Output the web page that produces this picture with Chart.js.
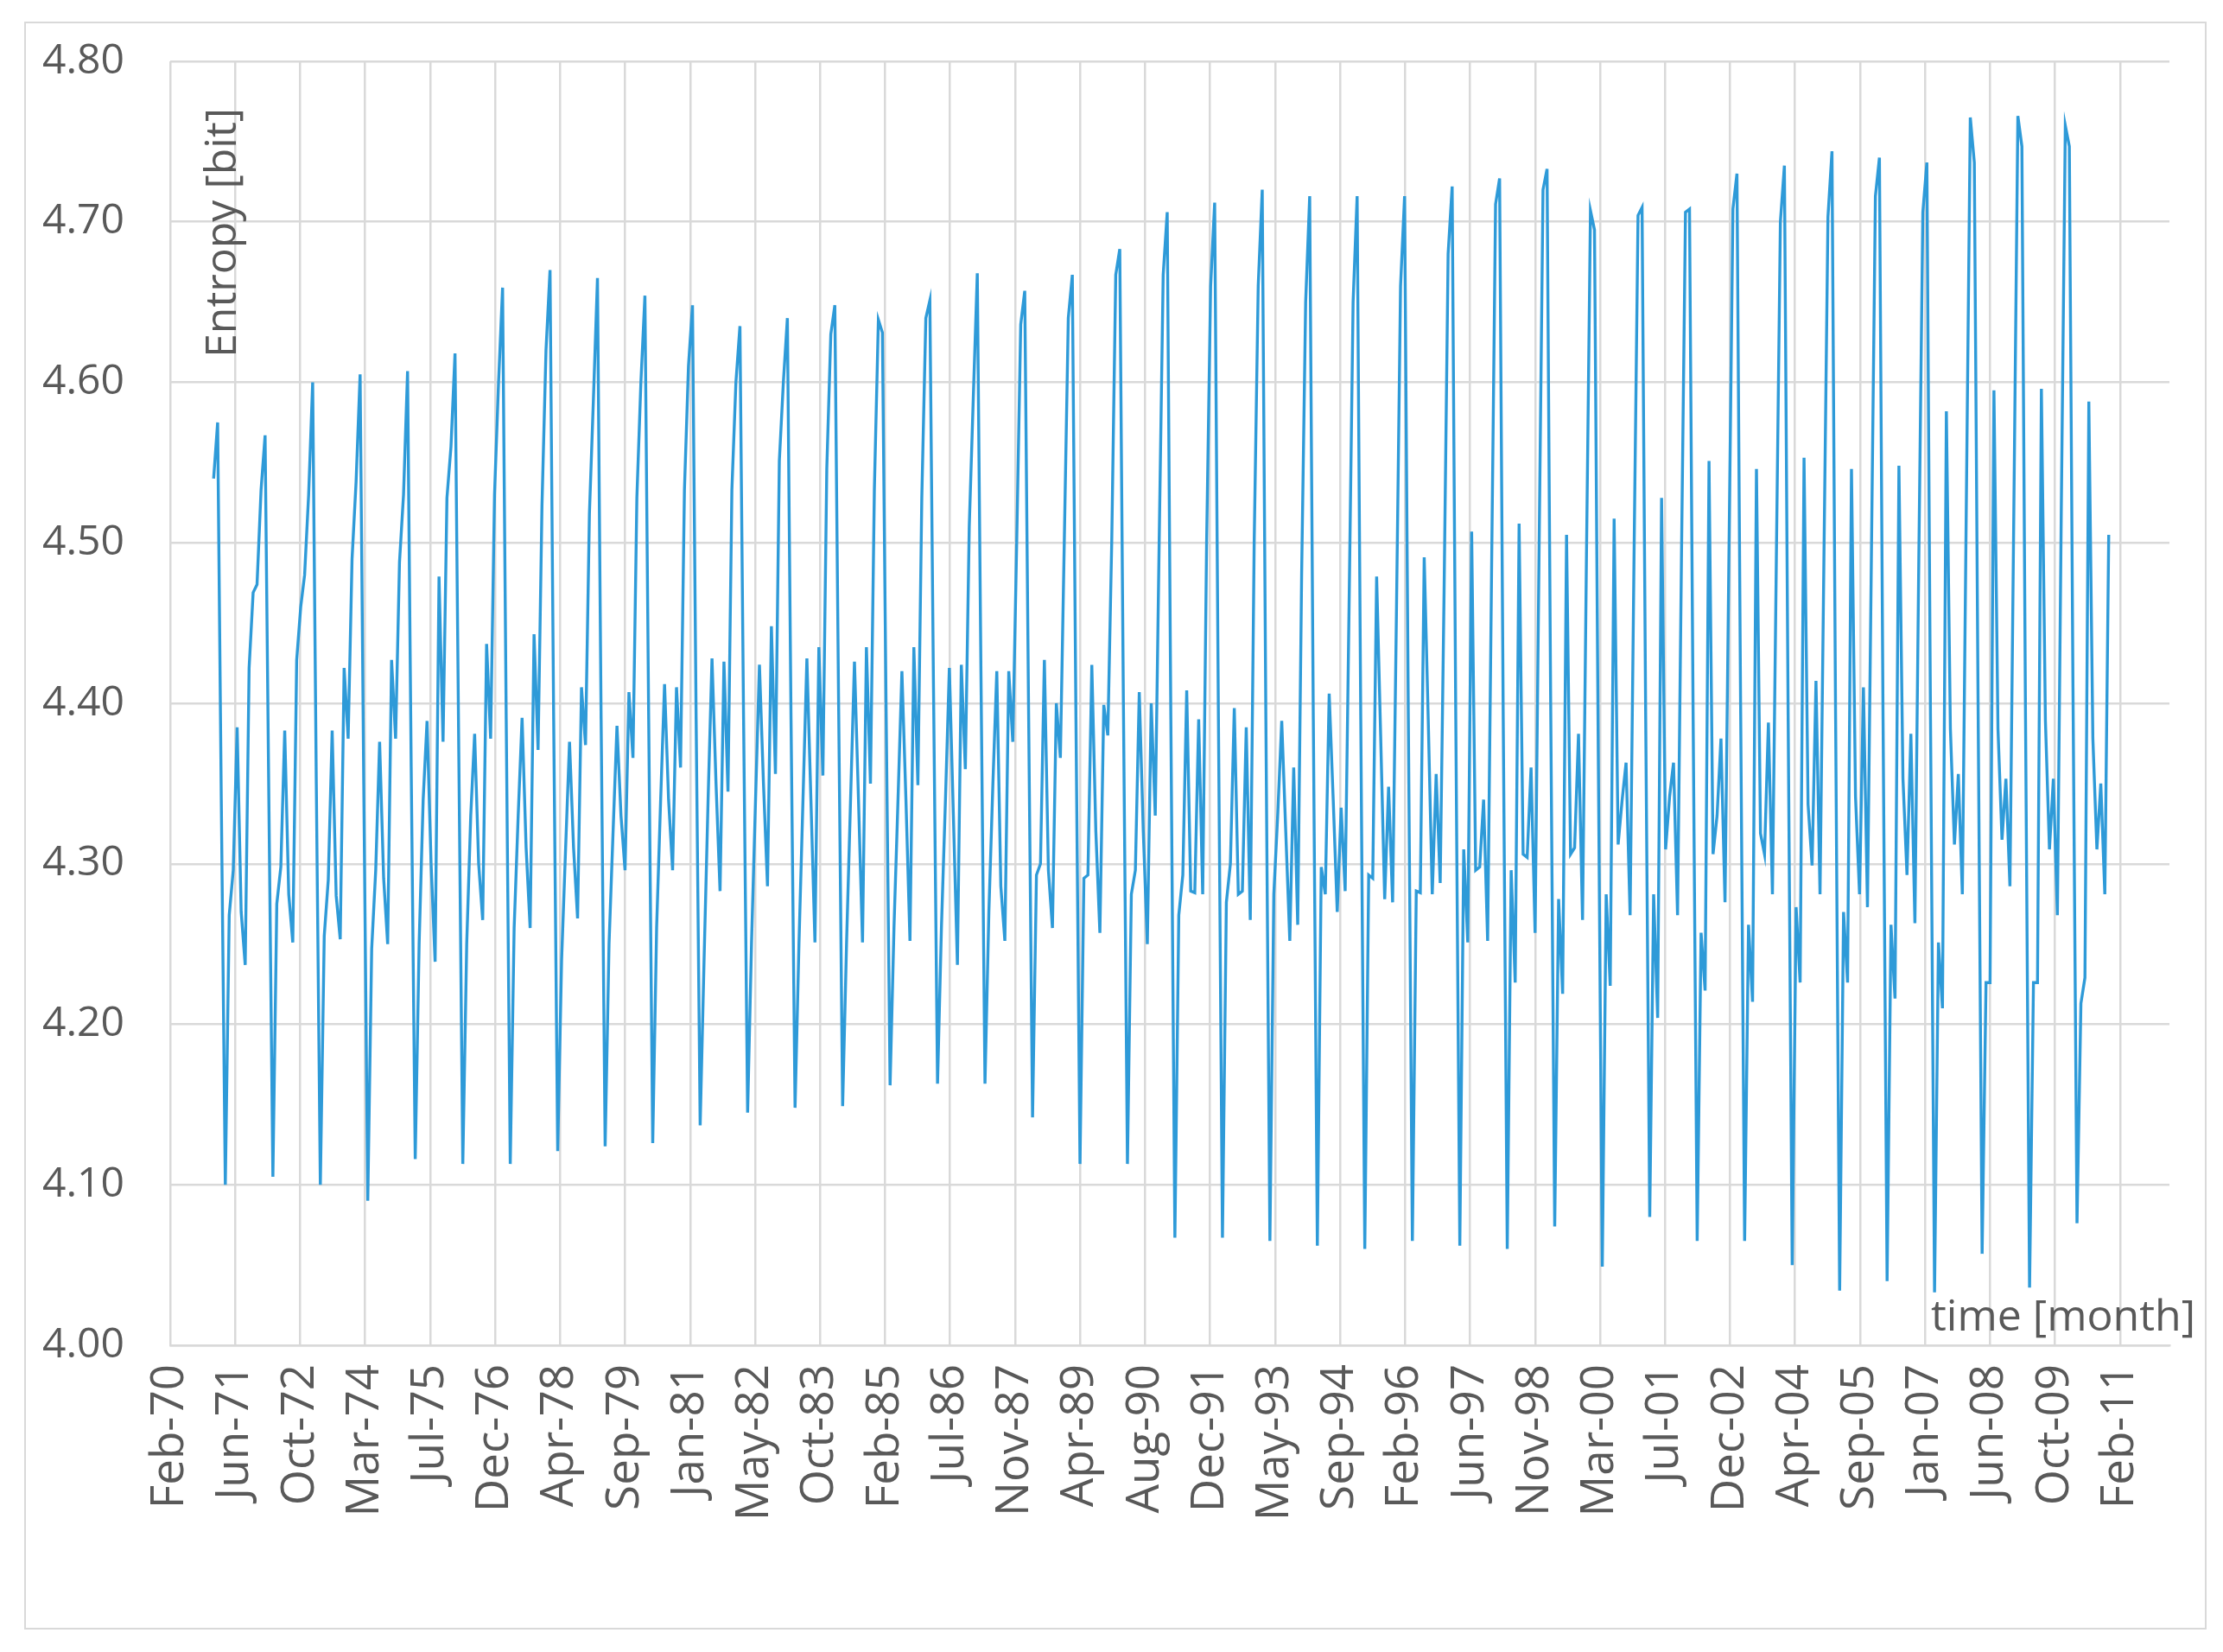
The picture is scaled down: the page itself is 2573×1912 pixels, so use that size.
<!DOCTYPE html>
<html>
<head>
<meta charset="utf-8">
<script src="https://cdn.jsdelivr.net/npm/chart.js@4.4.1/dist/chart.umd.min.js"></script>
<style>
  html, body { margin: 0; padding: 0; background: #ffffff; }
  #frame { position: absolute; left: 28px; top: 25px; width: 2522px; height: 1857px; border: 2px solid #d9d9d9; }
  #c { position: absolute; left: 0; top: 0; }
</style>
</head>
<body>
<div id="frame"></div>
<canvas id="c" width="2573" height="1912"></canvas>
<script>
// ---------------- DATA ----------------
// Monthly series, first value = January 1971, one row per year (Jan..Dec)
const firstYear = 1971;
const v1971_1980 = [
  4.540, 4.575, 4.340, 4.100, 4.268, 4.296, 4.385, 4.270, 4.237, 4.422, 4.469, 4.474,
  4.533, 4.567, 4.340, 4.105, 4.275, 4.298, 4.383, 4.281, 4.251, 4.427, 4.460, 4.480,
  4.530, 4.600, 4.350, 4.100, 4.255, 4.290, 4.383, 4.280, 4.253, 4.422, 4.378, 4.490,
  4.538, 4.605, 4.350, 4.090, 4.247, 4.296, 4.376, 4.291, 4.250, 4.427, 4.378, 4.488,
  4.530, 4.607, 4.360, 4.116, 4.250, 4.340, 4.389, 4.300, 4.239, 4.479, 4.376, 4.528,
  4.560, 4.618, 4.370, 4.113, 4.250, 4.330, 4.381, 4.300, 4.265, 4.437, 4.378, 4.530,
  4.600, 4.659, 4.390, 4.113, 4.260, 4.330, 4.391, 4.310, 4.260, 4.443, 4.371, 4.523,
  4.620, 4.670, 4.390, 4.121, 4.240, 4.310, 4.376, 4.310, 4.266, 4.410, 4.374, 4.518,
  4.590, 4.665, 4.390, 4.124, 4.250, 4.320, 4.386, 4.330, 4.296, 4.407, 4.366, 4.528,
  4.600, 4.654, 4.390, 4.126, 4.260, 4.340, 4.412, 4.340, 4.296, 4.410, 4.360, 4.533
];
const v1981_1990 = [
  4.610, 4.648, 4.390, 4.137, 4.240, 4.340, 4.428, 4.350, 4.283, 4.426, 4.345, 4.533,
  4.600, 4.635, 4.390, 4.145, 4.250, 4.340, 4.424, 4.350, 4.286, 4.448, 4.356, 4.551,
  4.600, 4.640, 4.390, 4.148, 4.250, 4.340, 4.428, 4.340, 4.251, 4.435, 4.355, 4.546,
  4.630, 4.648, 4.400, 4.149, 4.250, 4.340, 4.426, 4.340, 4.251, 4.435, 4.350, 4.533,
  4.639, 4.631, 4.400, 4.162, 4.260, 4.340, 4.420, 4.340, 4.252, 4.435, 4.349, 4.528,
  4.640, 4.651, 4.410, 4.163, 4.260, 4.340, 4.422, 4.330, 4.237, 4.424, 4.359, 4.510,
  4.590, 4.668, 4.420, 4.163, 4.270, 4.350, 4.420, 4.286, 4.252, 4.420, 4.376, 4.500,
  4.636, 4.657, 4.400, 4.142, 4.293, 4.300, 4.427, 4.296, 4.260, 4.400, 4.366, 4.500,
  4.640, 4.667, 4.390, 4.113, 4.291, 4.293, 4.424, 4.320, 4.257, 4.399, 4.380, 4.500,
  4.667, 4.683, 4.400, 4.113, 4.281, 4.296, 4.407, 4.320, 4.250, 4.400, 4.330, 4.500
];
const v1991_2000 = [
  4.667, 4.706, 4.390, 4.067, 4.268, 4.293, 4.408, 4.283, 4.282, 4.390, 4.281, 4.500,
  4.660, 4.712, 4.390, 4.067, 4.276, 4.300, 4.397, 4.281, 4.283, 4.385, 4.265, 4.500,
  4.660, 4.720, 4.390, 4.065, 4.281, 4.332, 4.389, 4.320, 4.252, 4.360, 4.262, 4.480,
  4.650, 4.716, 4.390, 4.062, 4.298, 4.281, 4.406, 4.340, 4.270, 4.335, 4.283, 4.460,
  4.650, 4.716, 4.390, 4.060, 4.293, 4.291, 4.479, 4.380, 4.278, 4.348, 4.276, 4.460,
  4.660, 4.716, 4.390, 4.065, 4.283, 4.282, 4.491, 4.390, 4.281, 4.356, 4.288, 4.470,
  4.680, 4.722, 4.390, 4.062, 4.309, 4.251, 4.507, 4.296, 4.298, 4.340, 4.252, 4.480,
  4.711, 4.727, 4.390, 4.060, 4.296, 4.226, 4.512, 4.306, 4.304, 4.360, 4.257, 4.490,
  4.720, 4.733, 4.400, 4.074, 4.278, 4.219, 4.505, 4.306, 4.310, 4.381, 4.265, 4.490,
  4.707, 4.695, 4.370, 4.049, 4.281, 4.224, 4.515, 4.312, 4.340, 4.363, 4.268, 4.490
];
const v2001_2010 = [
  4.704, 4.709, 4.390, 4.080, 4.281, 4.204, 4.528, 4.309, 4.342, 4.363, 4.268, 4.490,
  4.706, 4.708, 4.390, 4.065, 4.257, 4.221, 4.551, 4.306, 4.330, 4.378, 4.276, 4.490,
  4.708, 4.730, 4.400, 4.065, 4.262, 4.214, 4.546, 4.319, 4.306, 4.388, 4.281, 4.490,
  4.700, 4.735, 4.390, 4.050, 4.273, 4.226, 4.553, 4.337, 4.299, 4.414, 4.281, 4.490,
  4.703, 4.744, 4.390, 4.034, 4.270, 4.226, 4.546, 4.342, 4.281, 4.410, 4.273, 4.490,
  4.716, 4.740, 4.390, 4.040, 4.262, 4.216, 4.548, 4.353, 4.293, 4.381, 4.263, 4.490,
  4.706, 4.737, 4.390, 4.033, 4.251, 4.210, 4.582, 4.384, 4.312, 4.356, 4.281, 4.520,
  4.765, 4.737, 4.400, 4.057, 4.226, 4.226, 4.595, 4.384, 4.315, 4.353, 4.286, 4.520,
  4.766, 4.747, 4.390, 4.036, 4.226, 4.226, 4.596, 4.389, 4.309, 4.353, 4.268, 4.520,
  4.760, 4.747, 4.410, 4.076, 4.213, 4.229, 4.588, 4.378, 4.309, 4.350, 4.281, 4.505
];

// Date axis (days counted from 1 Feb 1970), major unit 500 days
const xTickLabels = [
  'Feb-70','Jun-71','Oct-72','Mar-74','Jul-75','Dec-76','Apr-78','Sep-79','Jan-81','May-82',
  'Oct-83','Feb-85','Jul-86','Nov-87','Apr-89','Aug-90','Dec-91','May-93','Sep-94','Feb-96',
  'Jun-97','Nov-98','Mar-00','Jul-01','Dec-02','Apr-04','Sep-05','Jan-07','Jun-08','Oct-09','Feb-11'
];
const xMajorUnitDays = 500;
const xAxisMaxDays = 15380;
const yTickValues = [4.00, 4.10, 4.20, 4.30, 4.40, 4.50, 4.60, 4.70, 4.80];
const yAxisTitle = 'Entropy [bit]';
const xAxisTitle = 'time [month]';

// ---------------- CHART ----------------
const FONT = "'Open Sans', 'DejaVu Sans', sans-serif";
const TEXT = '#595959';
const GRID = '#d9d9d9';
const DAY_MS = 86400000;
const originMs = Date.UTC(1970, 1, 1);
const values = [].concat(v1971_1980, v1981_1990, v1991_2000, v2001_2010);
const points = values.map((v, i) => ({ x: (Date.UTC(firstYear, i, 1) - originMs) / DAY_MS, y: v }));

const titlesPlugin = {
  id: 'titles',
  afterDraw(chart) {
    const ctx = chart.ctx;
    const a = chart.chartArea;
    ctx.save();
    ctx.fillStyle = TEXT;
    ctx.font = '50px ' + FONT;
    // y title inside plot, rotated
    ctx.save();
    ctx.translate(a.left + 62, a.top + 343);
    ctx.rotate(-Math.PI / 2);
    ctx.textAlign = 'left';
    ctx.textBaseline = 'middle';
    ctx.fillText(yAxisTitle, 0, 0);
    ctx.restore();
    // x title bottom right
    ctx.textAlign = 'right';
    ctx.textBaseline = 'middle';
    ctx.fillText(xAxisTitle, a.right + 30, a.bottom - 31);
    ctx.restore();
  }
};

new Chart(document.getElementById('c'), {
  type: 'line',
  data: {
    datasets: [{
      data: points,
      borderColor: '#2E9AD8',
      borderWidth: 3.4,
      pointRadius: 0,
      tension: 0,
      fill: false
    }]
  },
  options: {
    responsive: false,
    animation: false,
    devicePixelRatio: 1,
    layout: { padding: { left: 0, top: 71, right: 62, bottom: 0 } },
    plugins: { legend: { display: false }, tooltip: { enabled: false } },
    scales: {
      x: {
        type: 'linear',
        min: 0,
        max: xAxisMaxDays,
        afterBuildTicks: s => { s.ticks = xTickLabels.map((l, i) => ({ value: i * xMajorUnitDays })); },
        afterFit: s => { s.height = 355; s.paddingLeft = 0; s.paddingRight = 0; },
        grid: { color: GRID, lineWidth: 2.5, drawTicks: false },
        border: { color: GRID, width: 2.5 },
        ticks: {
          autoSkip: false,
          minRotation: 90,
          maxRotation: 90,
          padding: 22,
          color: TEXT,
          font: { family: FONT, size: 53 },
          callback: (v, i) => xTickLabels[i]
        }
      },
      y: {
        min: yTickValues[0],
        max: yTickValues[yTickValues.length - 1],
        afterBuildTicks: s => { s.ticks = yTickValues.map(v => ({ value: v })); },
        afterFit: s => { s.width = 197; s.paddingTop = 0; s.paddingBottom = 0; },
        grid: { color: GRID, lineWidth: 2.5, drawTicks: false },
        border: { display: false },
        ticks: {
          padding: 53,
          color: TEXT,
          font: { family: FONT, size: 48 },
          callback: v => Number(v).toFixed(2)
        }
      }
    }
  },
  plugins: [titlesPlugin]
});
</script>
</body>
</html>
